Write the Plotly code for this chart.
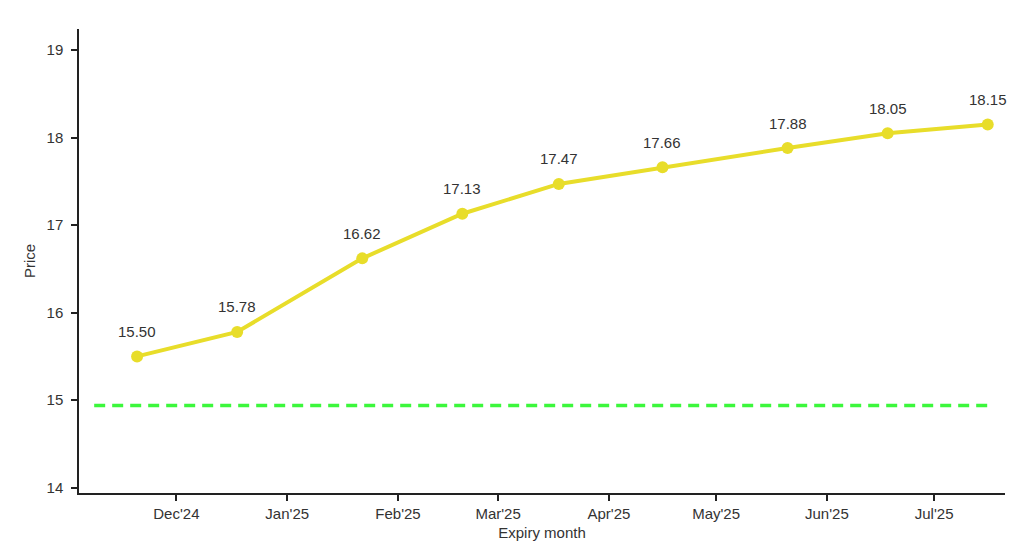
import plotly.graph_objects as go

# VIX futures term structure
expiry_dates = ['2024-11-20', '2024-12-18', '2025-01-22', '2025-02-19', '2025-03-18',
                '2025-04-16', '2025-05-21', '2025-06-18', '2025-07-16']
prices = [15.50, 15.78, 16.62, 17.13, 17.47, 17.66, 17.88, 18.05, 18.15]

# spot level, drawn as a dashed reference from today to the last expiry
spot_dates = ['2024-11-08', '2025-07-16']
spot_price = 14.94

font = 'Liberation Sans, Arial, sans-serif'

fig = go.Figure()
fig.add_trace(go.Scatter(
    x=spot_dates,
    y=[spot_price] * len(spot_dates),
    mode='lines',
    line=dict(color='#3cf73c', width=3.5, dash='11px,7px'),
    hoverinfo='skip',
    showlegend=False))
fig.add_trace(go.Scatter(
    x=expiry_dates,
    y=prices,
    mode='lines+markers',
    line=dict(color='#e8dd2a', width=4),
    marker=dict(color='#e8dd2a', size=12),
    showlegend=False))

for d, p in zip(expiry_dates, prices):
    fig.add_annotation(x=d, y=p, text=f'{p:.2f}', showarrow=False,
                       yanchor='middle', yshift=25,
                       font=dict(family=font, size=15, color='#333333'))

# page body adds an 8px offset, margins are trimmed for it
fig.update_layout(
    width=1024, height=543,
    margin=dict(l=71, r=27, t=21, b=53),
    plot_bgcolor='white', paper_bgcolor='white',
    font=dict(family=font, size=15, color='#333333'),
    xaxis=dict(
        title=dict(text='Expiry month', standoff=7, font=dict(size=15)),
        type='date',
        range=['2024-11-03 18:00', '2025-07-20 20:00'],
        tick0='2024-12-01', dtick='M1', tickformat="%b'%y",
        showgrid=False, zeroline=False,
        showline=True, linecolor='#222222', linewidth=1.5,
        ticks='outside', ticklen=6, tickcolor='#222222', tickwidth=1.5,
        ticklabelstandoff=0),
    yaxis=dict(
        title=dict(text='Price', standoff=7, font=dict(size=15)),
        range=[13.94, 19.24],
        tick0=14, dtick=1,
        showgrid=False, zeroline=False,
        showline=True, linecolor='#222222', linewidth=1.5,
        ticks='outside', ticklen=6, tickcolor='#222222', tickwidth=1.5,
        ticklabelstandoff=5))

fig.write_html('out.html')
